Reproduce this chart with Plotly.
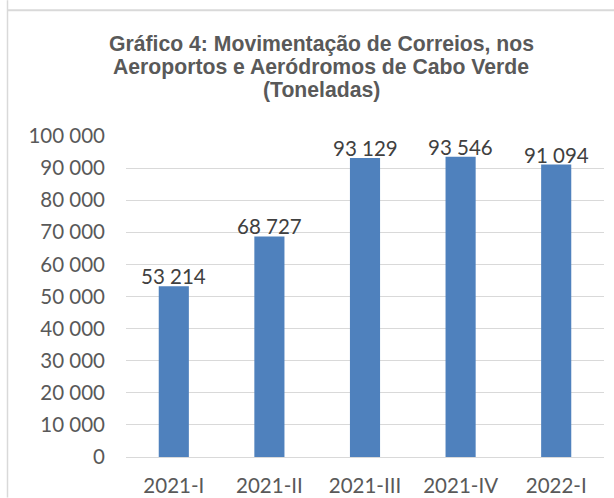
import plotly.graph_objects as go

categories = ["2021-I", "2021-II", "2021-III", "2021-IV", "2022-I"]
values = [53214, 68727, 93129, 93546, 91094]
y_ticks = [0, 10000, 20000, 30000, 40000, 50000, 60000, 70000, 80000, 90000, 100000]
title_lines = ["Gráfico 4: Movimentação de Correios, nos",
               "Aeroportos e Aeródromos de Cabo Verde",
               "(Toneladas)"]

W, H = 614, 498
L, R, T, B = 126, 10, 136, 40.5
pw, ph = W - L - R, H - T - B

def px(x):
    return (x - L) / pw

def py(y):
    return (H - B - y) / ph

def fmt(v):
    return f"{v:,d}".replace(",", " ")

fig = go.Figure()
fig.add_trace(go.Bar(
    x=categories, y=values,
    marker=dict(color="#4f81bd", line=dict(width=0)),
    hoverinfo="skip",
))

annotations = []
for c, v in zip(categories, values):
    annotations.append(dict(
        x=c, y=v, xref="x", yref="y", text=fmt(v), showarrow=False,
        xanchor="center", yanchor="bottom", yshift=-4,
        font=dict(family="Lato", size=20.5, color="#404040"),
    ))

title_baselines = [51, 74, 97]
for line, yb in zip(title_lines, title_baselines):
    annotations.append(dict(
        text=f"<b>{line}</b>", xref="paper", yref="paper",
        x=px(321), y=py(yb - 7), xanchor="center", yanchor="middle",
        showarrow=False,
        font=dict(family="Liberation Sans", size=21.2, color="#595959"),
    ))

fig.update_layout(
    width=W, height=H,
    margin=dict(l=L, r=R, t=T, b=B, pad=0, autoexpand=False),
    paper_bgcolor="white", plot_bgcolor="white",
    separators=", ",
    showlegend=False,
    bargap=0.685,
    xaxis=dict(showgrid=False, showline=False, ticks="", ticklabelstandoff=14,
               automargin=False,
               tickfont=dict(family="Lato", size=20.5, color="#595959")),
    yaxis=dict(range=[0, 100000], tickvals=y_ticks, tickformat=",d",
               showgrid=True, gridcolor="#d9d9d9", gridwidth=1,
               zeroline=True, zerolinecolor="#d9d9d9", zerolinewidth=1,
               showline=False, ticks="", ticklabelstandoff=20,
               automargin=False,
               tickfont=dict(family="Lato", size=20.5, color="#595959")),
    annotations=annotations,
    shapes=[
        dict(type="line", xref="paper", yref="paper",
             x0=px(7.5), x1=px(614), y0=py(10), y1=py(10),
             line=dict(color="#d9d9d9", width=2)),
        dict(type="line", xref="paper", yref="paper",
             x0=px(7.5), x1=px(7.5), y0=py(0), y1=py(498),
             line=dict(color="#d9d9d9", width=1.5)),
    ],
)
fig.write_html("out.html", config={"displayModeBar": False},
               post_script="document.body.style.margin='0px';")
